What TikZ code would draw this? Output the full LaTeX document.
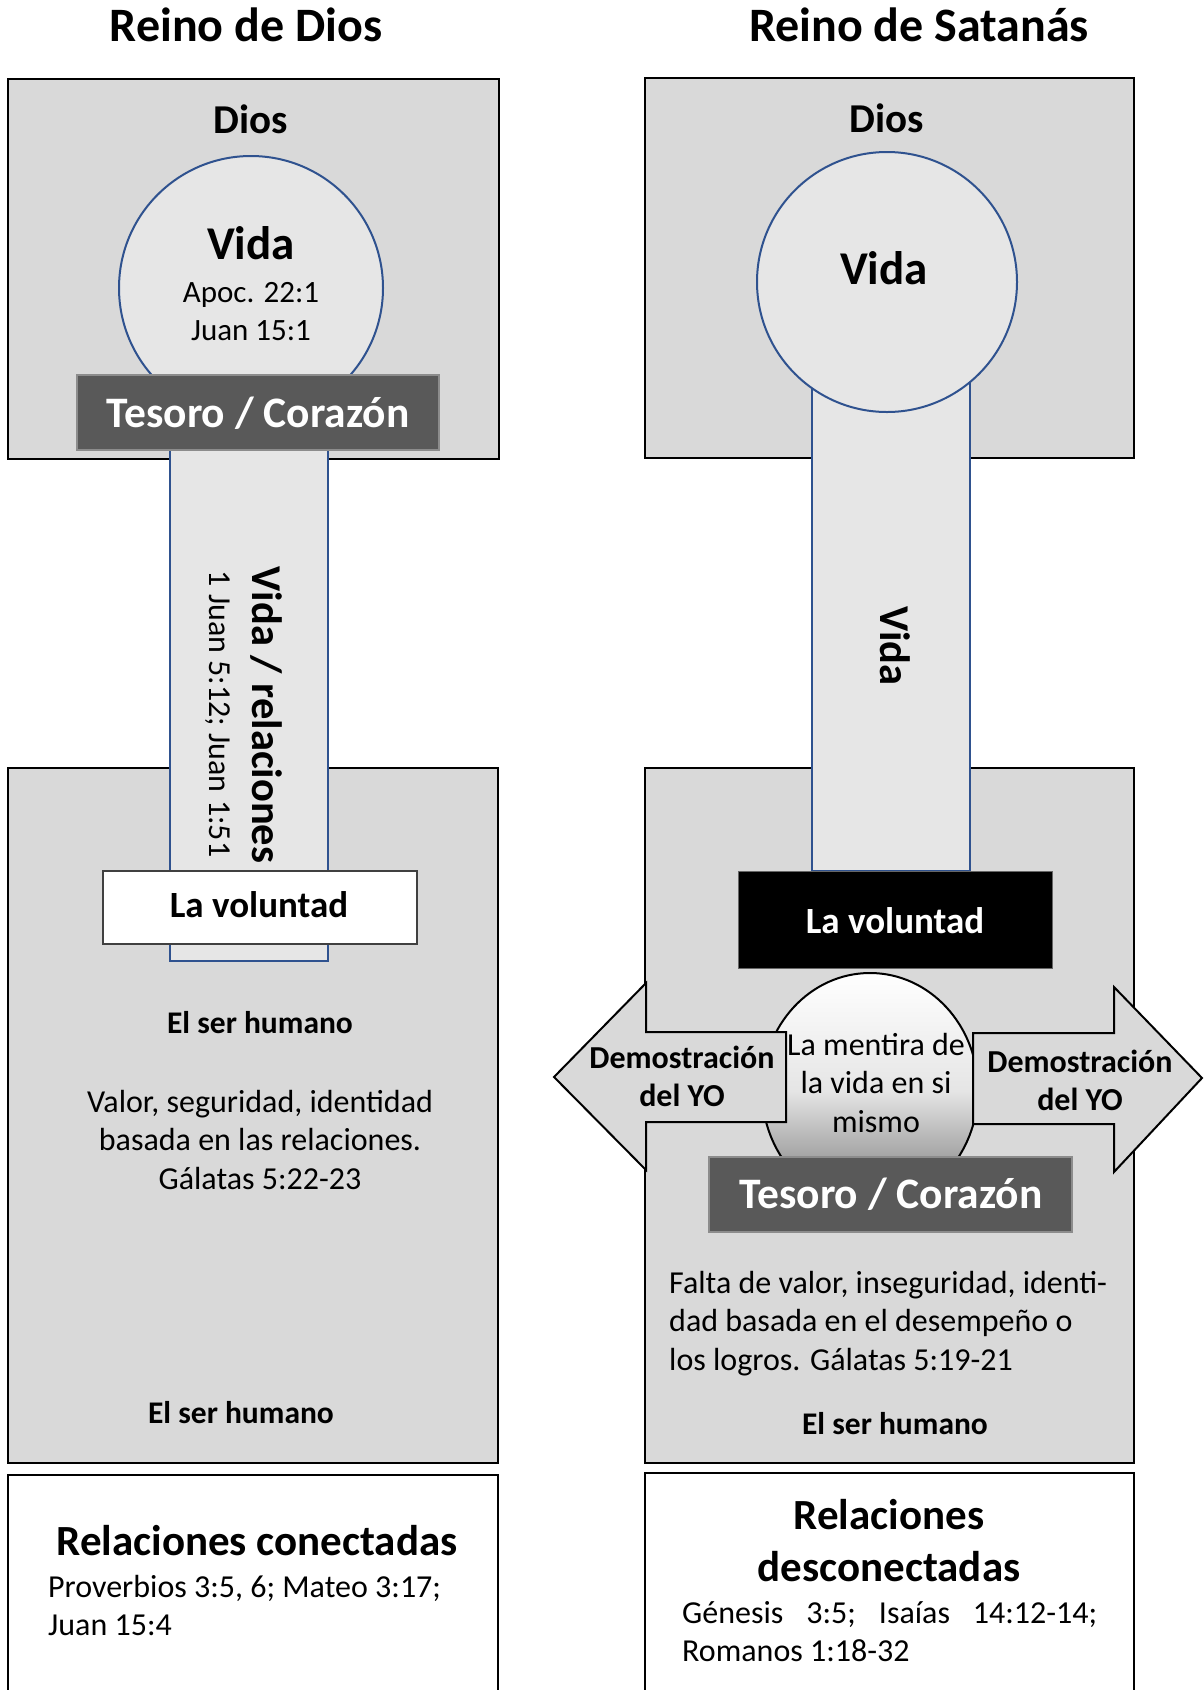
\documentclass[tikz,border=0pt]{standalone}
\usepackage{fontspec}
\setmainfont{Carlito}
\definecolor{cajagris}{HTML}{D9D9D9}
\definecolor{vidagris}{HTML}{E6E6E6}
\definecolor{azul}{HTML}{2F528F}
\definecolor{tesorogris}{HTML}{595959}
\newcommand{\renglones}[2]{\begin{tabular}[t]{@{}#1@{}}#2\end{tabular}}
\tikzset{
    reino/.style={fill=cajagris, draw=black, line width=2.5pt},
    blanca/.style={fill=white, draw=black, line width=2.5pt},
    vidaforma/.style={fill=vidagris, draw=azul, line width=2pt},
    tesorocaja/.style={fill=tesorogris, draw=black!45, line width=1.5pt},
    flecha/.style={fill=cajagris, draw=black, line width=2pt, line join=miter},
    lbl/.style={anchor=base, inner sep=0pt},
    titulo/.style={lbl, font={\fontsize{48}{57}\selectfont\bfseries}},
    dios/.style={lbl, font={\fontsize{41}{49}\selectfont\bfseries}},
    grande/.style={lbl, font={\fontsize{47}{56}\selectfont\bfseries}},
    cita/.style={lbl, font={\fontsize{32}{38.8}\selectfont}},
    rotulo/.style={lbl, text=white, font={\fontsize{43.5}{52}\selectfont\bfseries}},
    voluntad/.style={lbl, font={\fontsize{37}{44}\selectfont\bfseries}},
    humano/.style={lbl, font={\fontsize{31.5}{38}\selectfont\bfseries}},
    relac/.style={lbl, font={\fontsize{43}{51}\selectfont\bfseries}},
    demo/.style={lbl, font={\fontsize{32}{38}\selectfont\bfseries}}
}
\begin{document}
\begin{tikzpicture}[x=1pt, y=-1pt]
    \useasboundingbox (0,0) rectangle (1204,1690);

    \node[titulo] (tituloDios) at (246,41) {Reino de Dios};
    \draw[reino] (8,79) rectangle (499,459);
    \draw[reino] (8,768) rectangle (498,1463);
    \draw[blanca] (8,1475) rectangle (498,1700);
    \node[dios] (diosIzq) at (251,133) {Dios};
    \draw[vidaforma] (251,288) circle [radius=132];
    \draw[vidaforma] (170,430) rectangle (328,961);
    \draw[tesorocaja] (77,375) rectangle (439,450);
    \node[rotulo] (tesoroIzq) at (258,427) {Tesoro / Corazón};
    \node[grande] (vidaIzq) at (251,259) {Vida};
    \node[cita, font={\fontsize{31}{38.8}\selectfont}] (citaVida) at (251,302) {\renglones{c}{Apoc. 22:1\\Juan 15:1}};
    \node[relac, font={\fontsize{42.5}{51}\selectfont\bfseries}, rotate=-90] (vidaRel) at (252,715) {Vida / relaciones};
    \node[cita, rotate=-90] (vidaRelCita) at (209,714) {1 Juan 5:12; Juan 1:51};
    \draw[fill=white, draw=black!75, line width=1.5pt] (103,871) rectangle (417,944);
    \node[voluntad] (voluntadIzq) at (259,917) {La voluntad};
    \node[humano] (humanoIzq) at (260,1033) {El ser humano};
    \node[cita] (valor) at (260,1112) {\renglones{c}{Valor, seguridad, identidad\\basada en las relaciones.\\Gálatas 5:22-23}};
    \node[humano] (humanoIzqB) at (241,1423) {El ser humano};
    \node[relac] (conectadas) at (257,1555) {Relaciones conectadas};
    \node[cita, anchor=base west] (proverbios) at (48,1597) {\renglones{l}{Proverbios 3:5, 6; Mateo 3:17;\\Juan 15:4}};

    \node[titulo] (tituloSatanas) at (919,41) {Reino de Satanás};
    \draw[reino] (645,78) rectangle (1134,458);
    \draw[reino] (645,768) rectangle (1134,1463);
    \draw[blanca] (645,1473) rectangle (1134,1700);
    \node[dios] (diosDer) at (887,132) {Dios};
    \draw[vidaforma] (812,300) rectangle (970,871);
    \draw[vidaforma] (887,282) circle [radius=130];
    \node[grande] (vidaDer) at (884,284) {Vida};
    \node[relac, font={\fontsize{42.5}{51}\selectfont\bfseries}, rotate=-90] (vidaTallo) at (880,646) {Vida};
    \draw[fill=black, draw=black!60, line width=1pt] (738,871) rectangle (1052,968);
    \node[voluntad, text=white] (voluntadDer) at (895,933) {La voluntad};
    \shade[top color=white, bottom color=black!55, middle color=black!10, draw=black, line width=2pt]
        (870,1090) ellipse [x radius=108, y radius=117];
    \draw[flecha] (554,1077) -- (646,983) -- (646,1032) -- (786,1032) -- (786,1122) -- (646,1122) -- (646,1170) -- cycle;
    \draw[flecha] (973,1033) -- (1114,1033) -- (1114,987) -- (1202,1078) -- (1114,1172) -- (1114,1124) -- (973,1124) -- cycle;
    \node[demo] (demoIzq) at (682,1068) {\renglones{c}{Demostración\\del YO}};
    \node[demo] (demoDer) at (1080,1072) {\renglones{c}{Demostración\\del YO}};
    \node[cita] (mentira) at (876,1055) {\renglones{c}{La mentira de\\la vida en si\\mismo}};
    \draw[tesorocaja] (709,1157) rectangle (1072,1232);
    \node[rotulo] (tesoroDer) at (891,1208) {Tesoro / Corazón};
    \node[cita, anchor=base west] (falta) at (669,1293) {\renglones{l}{Falta de valor, inseguridad, identi-\\dad basada en el desempeño o\\los logros. Gálatas 5:19-21}};
    \node[humano] (humanoDer) at (895,1434) {El ser humano};
    \node[relac, font={\fontsize{43}{52}\selectfont\bfseries}] (desconectadas) at (889,1529) {\renglones{c}{Relaciones\\desconectadas}};
    \node[cita, anchor=base west] (genesis) at (682,1623) {\renglones{l}{\hbox to 415pt{Génesis\hfill 3:5;\hfill Isaías\hfill 14:12-14;}\\Romanos 1:18-32}};
\end{tikzpicture}
\end{document}
